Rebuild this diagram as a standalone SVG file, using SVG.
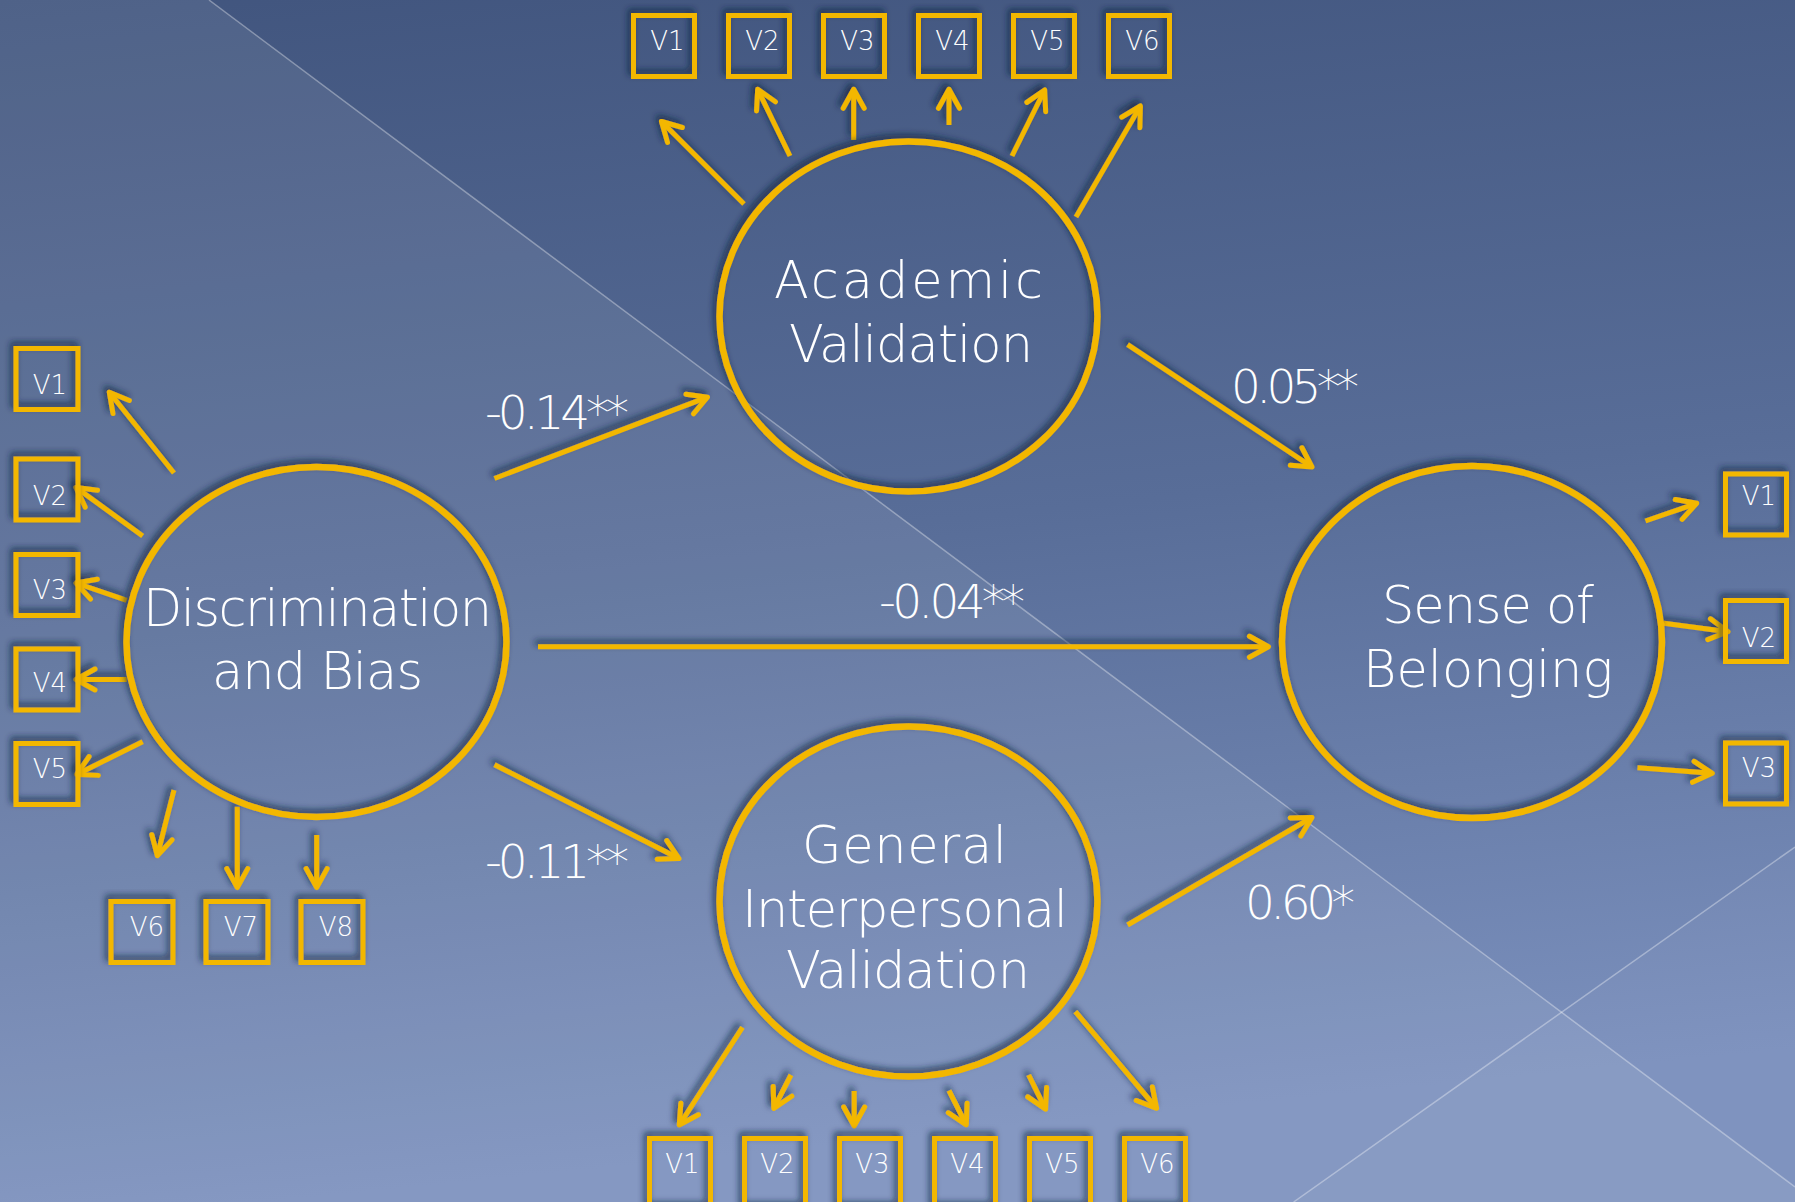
<svg xmlns="http://www.w3.org/2000/svg" width="1795" height="1202" viewBox="0 0 1795 1202">
<defs>
<linearGradient id="bg" x1="0" y1="0" x2="0.15" y2="1">
<stop offset="0" stop-color="#41557e"/>
<stop offset="0.5" stop-color="#586d98"/>
<stop offset="1" stop-color="#7b90bd"/>
</linearGradient>
<filter id="sh" x="-20%" y="-20%" width="140%" height="140%">
<feDropShadow dx="-3" dy="-4" stdDeviation="3" flood-color="#17203a" flood-opacity="0.7"/>
</filter>
<marker id="ah" markerUnits="userSpaceOnUse" markerWidth="30" markerHeight="30" viewBox="-25 -15 30 30" refX="0" refY="0" orient="auto" overflow="visible">
<path d="M-19,-10.5 L0,0 L-19,10.5" fill="none" stroke="#f3b700" stroke-width="5" stroke-linecap="round" stroke-linejoin="round"/>
</marker>
<style>
.ell{fill:none;stroke:#f3b700;stroke-width:6.5}
.box{fill:none;stroke:#f3b700;stroke-width:5}
.cn{fill:none;stroke:#f3b700;stroke-width:5;marker-end:url(#ah)}
.t{font-family:"DejaVu Sans","Liberation Sans",sans-serif;font-weight:200;fill:#ffffff}
.big{font-size:51px}
.lab{font-size:47px}
.v{font-size:26px;text-anchor:middle}
</style>
</defs>
<rect width="1795" height="1202" fill="url(#bg)"/>
<polygon points="0,0 209,0 1795,1187 1795,1202 0,1202" fill="#ffffff" fill-opacity="0.08"/>
<polygon points="1293.6,1202 1795,847 1795,1202" fill="#ffffff" fill-opacity="0.03"/>
<line x1="209" y1="0" x2="1795" y2="1187" stroke="#ffffff" stroke-opacity="0.35" stroke-width="1.5"/>
<line x1="1293.6" y1="1202" x2="1795" y2="847" stroke="#ffffff" stroke-opacity="0.35" stroke-width="1.5"/>

<g id="connectors" filter="url(#sh)">
<line class="cn" x1="494.5" y1="478.5" x2="707.5" y2="397.2"/>
<line class="cn" x1="1127.6" y1="344.6" x2="1312" y2="467"/>
<line class="cn" x1="538" y1="646.8" x2="1268.5" y2="646.8"/>
<line class="cn" x1="494.5" y1="764.7" x2="679" y2="858.6"/>
<line class="cn" x1="1127.6" y1="925" x2="1312" y2="817.4"/>
<line class="cn" x1="744" y1="204" x2="661.5" y2="121.5"/>
<line class="cn" x1="790" y1="156" x2="757.7" y2="89.3"/>
<line class="cn" x1="853.7" y1="140" x2="853.7" y2="89.3"/>
<line class="cn" x1="949" y1="125" x2="949" y2="89.3"/>
<line class="cn" x1="1012" y1="156" x2="1044.7" y2="90"/>
<line class="cn" x1="1076" y1="217" x2="1140.4" y2="106"/>
<line class="cn" x1="174" y1="473" x2="109.3" y2="392.2"/>
<line class="cn" x1="142.7" y1="536" x2="76" y2="487.5"/>
<line class="cn" x1="126.7" y1="600.3" x2="76" y2="583"/>
<line class="cn" x1="126.7" y1="679.5" x2="76" y2="679.5"/>
<line class="cn" x1="142.7" y1="741.7" x2="76.7" y2="774.4"/>
<line class="cn" x1="174" y1="790.2" x2="157.3" y2="855.7"/>
<line class="cn" x1="237.3" y1="806.8" x2="237.3" y2="887.6"/>
<line class="cn" x1="316.7" y1="835" x2="316.7" y2="887.6"/>
<line class="cn" x1="742.5" y1="1027.3" x2="679.3" y2="1125"/>
<line class="cn" x1="791" y1="1075" x2="773.8" y2="1108.3"/>
<line class="cn" x1="854.2" y1="1091" x2="854.2" y2="1126"/>
<line class="cn" x1="949" y1="1090.7" x2="966.3" y2="1125"/>
<line class="cn" x1="1028.7" y1="1075" x2="1045.6" y2="1109.3"/>
<line class="cn" x1="1075.4" y1="1011.7" x2="1156.6" y2="1108.3"/>
<line class="cn" x1="1645.5" y1="521" x2="1696.7" y2="503.3"/>
<line class="cn" x1="1663.6" y1="623.3" x2="1728" y2="631.7"/>
<line class="cn" x1="1637.5" y1="767.7" x2="1712.3" y2="773.3"/>
</g>

<g id="labels" class="t lab">
<text x="485" y="429" textLength="144">-0.14**</text>
<text x="1231" y="403" textLength="128">0.05**</text>
<text x="879" y="618" textLength="146">-0.04**</text>
<text x="485" y="878" textLength="144">-0.11**</text>
<text x="1245" y="919" textLength="110">0.60*</text>
</g>

<g id="discrimination">
<ellipse class="ell" cx="316.5" cy="642" rx="190" ry="175" filter="url(#sh)"/>
<text class="t big" x="143" y="626" textLength="349">Discrimination</text>
<text class="t big" x="212" y="689" textLength="211">and Bias</text>
</g>
<g id="academic">
<ellipse class="ell" cx="908.5" cy="316.5" rx="189" ry="175" filter="url(#sh)"/>
<text class="t big" x="774" y="298" textLength="269">Academic</text>
<text class="t big" x="789" y="362" textLength="244">Validation</text>
</g>
<g id="general">
<ellipse class="ell" cx="908.5" cy="901.5" rx="189" ry="175" filter="url(#sh)"/>
<text class="t big" x="802" y="863" textLength="205">General</text>
<text class="t big" x="742" y="927" textLength="326">Interpersonal</text>
<text class="t big" x="786" y="988" textLength="244">Validation</text>
</g>
<g id="belonging">
<ellipse class="ell" cx="1472" cy="642" rx="190" ry="176" filter="url(#sh)"/>
<text class="t big" x="1382" y="623" textLength="212">Sense of</text>
<text class="t big" x="1363" y="687" textLength="250">Belonging</text>
</g>

<g id="academic-items">
<g id="av1"><rect class="box" x="633.5" y="15.5" width="61" height="61" filter="url(#sh)"/><text class="t v" x="667.5" y="50">V1</text></g>
<g id="av2"><rect class="box" x="728.5" y="15.5" width="61" height="61" filter="url(#sh)"/><text class="t v" x="762.5" y="50">V2</text></g>
<g id="av3"><rect class="box" x="823.5" y="15.5" width="61" height="61" filter="url(#sh)"/><text class="t v" x="857.5" y="50">V3</text></g>
<g id="av4"><rect class="box" x="918.5" y="15.5" width="61" height="61" filter="url(#sh)"/><text class="t v" x="952.5" y="50">V4</text></g>
<g id="av5"><rect class="box" x="1013.5" y="15.5" width="61" height="61" filter="url(#sh)"/><text class="t v" x="1047.5" y="50">V5</text></g>
<g id="av6"><rect class="box" x="1108.5" y="15.5" width="61" height="61" filter="url(#sh)"/><text class="t v" x="1142.5" y="50">V6</text></g>
</g>

<g id="discrimination-items">
<g id="dv1"><rect class="box" x="16" y="348.5" width="62" height="61" filter="url(#sh)"/><text class="t v" x="50" y="394">V1</text></g>
<g id="dv2"><rect class="box" x="16" y="459" width="62" height="61" filter="url(#sh)"/><text class="t v" x="50" y="505">V2</text></g>
<g id="dv3"><rect class="box" x="16" y="554.5" width="62" height="61" filter="url(#sh)"/><text class="t v" x="50" y="599">V3</text></g>
<g id="dv4"><rect class="box" x="16" y="649" width="62" height="61" filter="url(#sh)"/><text class="t v" x="50" y="692">V4</text></g>
<g id="dv5"><rect class="box" x="16" y="743.5" width="62" height="61" filter="url(#sh)"/><text class="t v" x="50" y="778">V5</text></g>
<g id="dv6"><rect class="box" x="111" y="901.5" width="62" height="61" filter="url(#sh)"/><text class="t v" x="147" y="936">V6</text></g>
<g id="dv7"><rect class="box" x="206" y="901.5" width="62" height="61" filter="url(#sh)"/><text class="t v" x="241" y="936">V7</text></g>
<g id="dv8"><rect class="box" x="301" y="901.5" width="62" height="61" filter="url(#sh)"/><text class="t v" x="336" y="936">V8</text></g>
</g>

<g id="general-items">
<g id="gv1"><rect class="box" x="649.5" y="1138.5" width="61" height="70" filter="url(#sh)"/><text class="t v" x="682.5" y="1173">V1</text></g>
<g id="gv2"><rect class="box" x="744.5" y="1138.5" width="61" height="70" filter="url(#sh)"/><text class="t v" x="777.5" y="1173">V2</text></g>
<g id="gv3"><rect class="box" x="839.5" y="1138.5" width="61" height="70" filter="url(#sh)"/><text class="t v" x="872.5" y="1173">V3</text></g>
<g id="gv4"><rect class="box" x="934.5" y="1138.5" width="61" height="70" filter="url(#sh)"/><text class="t v" x="967.5" y="1173">V4</text></g>
<g id="gv5"><rect class="box" x="1029.5" y="1138.5" width="61" height="70" filter="url(#sh)"/><text class="t v" x="1062.5" y="1173">V5</text></g>
<g id="gv6"><rect class="box" x="1124.5" y="1138.5" width="61" height="70" filter="url(#sh)"/><text class="t v" x="1157.5" y="1173">V6</text></g>
</g>

<g id="belonging-items">
<g id="bv1"><rect class="box" x="1725.5" y="474" width="61" height="61" filter="url(#sh)"/><text class="t v" x="1759" y="505">V1</text></g>
<g id="bv2"><rect class="box" x="1725.5" y="600.5" width="61" height="61" filter="url(#sh)"/><text class="t v" x="1759" y="647">V2</text></g>
<g id="bv3"><rect class="box" x="1725.5" y="743" width="61" height="61" filter="url(#sh)"/><text class="t v" x="1759" y="777">V3</text></g>
</g>
</svg>
